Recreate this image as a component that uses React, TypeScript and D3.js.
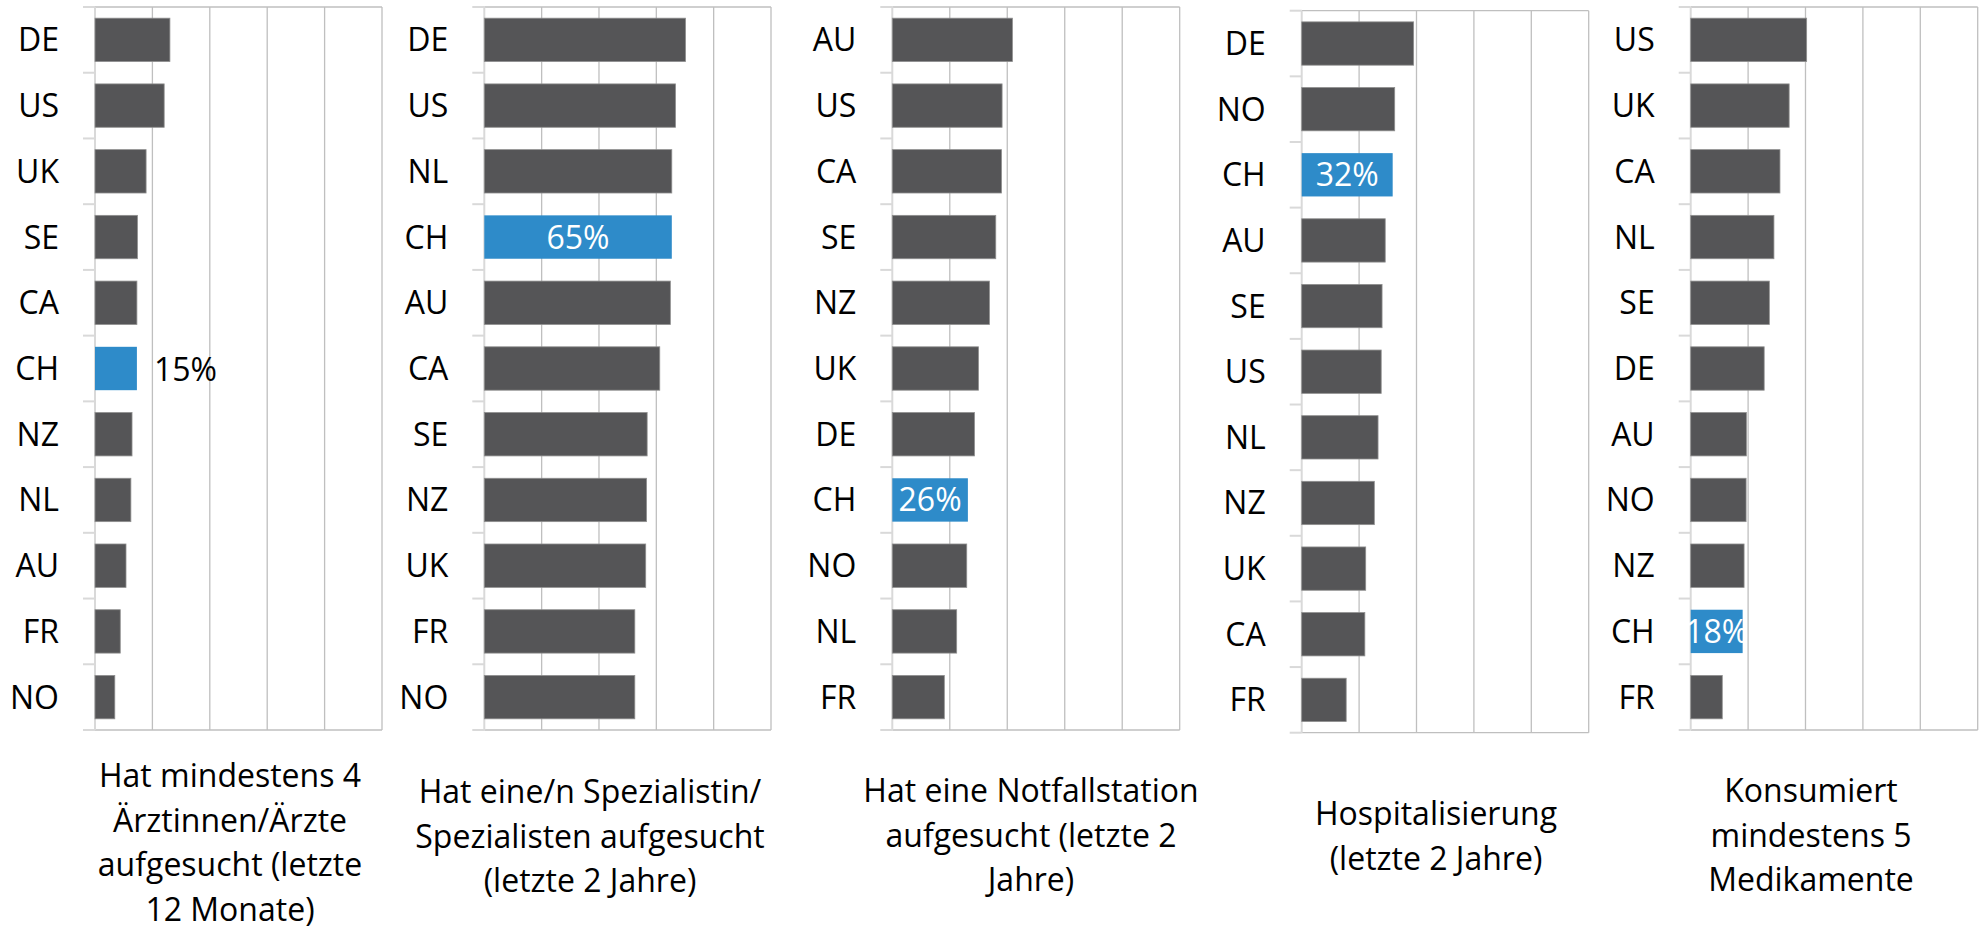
import React from "react";
import * as d3 from "d3";

// values in % per country
const p1Countries = ["DE", "US", "UK", "SE", "CA", "CH", "NZ", "NL", "AU", "FR", "NO"];
const p1Values = [26.1, 24.1, 17.8, 14.8, 14.6, 14.6, 12.9, 12.5, 10.8, 8.8, 6.9];

const p2Countries = ["DE", "US", "NL", "CH", "AU", "CA", "SE", "NZ", "UK", "FR", "NO"];
const p2Values = [70.2, 66.7, 65.4, 65.4, 64.9, 61.2, 56.8, 56.6, 56.3, 52.5, 52.5];

const p3Countries = ["AU", "US", "CA", "SE", "NZ", "UK", "DE", "CH", "NO", "NL", "FR"];
const p3Values = [41.8, 38.2, 38.0, 36.0, 33.8, 30.0, 28.6, 26.3, 25.9, 22.4, 18.1];

const p4Countries = ["DE", "NO", "CH", "AU", "SE", "US", "NL", "NZ", "UK", "CA", "FR"];
const p4Values = [39.0, 32.4, 31.7, 29.1, 28.0, 27.7, 26.6, 25.3, 22.3, 22.0, 15.5];

const p5Countries = ["US", "UK", "CA", "NL", "SE", "DE", "AU", "NO", "NZ", "CH", "FR"];
const p5Values = [40.4, 34.3, 31.1, 29.0, 27.4, 25.6, 19.4, 19.3, 18.6, 18.1, 11.0];

const p1Title = ["Hat mindestens 4", "Ärztinnen/Ärzte", "aufgesucht (letzte", "12 Monate)"];
const p2Title = ["Hat eine/n Spezialistin/", "Spezialisten aufgesucht", "(letzte 2 Jahre)"];
const p3Title = ["Hat eine Notfallstation", "aufgesucht (letzte 2", "Jahre)"];
const p4Title = ["Hospitalisierung", "(letzte 2 Jahre)"];
const p5Title = ["Konsumiert", "mindestens 5", "Medikamente"];

const gridTicks = [0, 20, 40, 60, 80, 100];
const highlight = "CH";

const W = 1981;
const H = 929;
const FONT = "'Open Sans', 'Noto Sans', sans-serif";
const FS = 32;
const DARK = "#555557";
const BLUE = "#2e8bc9";
const GRID = "#bfbfbf";
const AXIS = "#d9d9d9";

interface PanelProps {
  countries: string[];
  values: number[];
  title: string[];
  left: number;
  right: number;
  top: number;
  bottom: number;
  titleX: number;
  titleY: number;
  labelInside: boolean;
}

const Panel = ({ countries, values, title, left, right, top, bottom, titleX, titleY, labelInside }: PanelProps) => {
  const x = d3.scaleLinear().domain([0, 100]).range([left, right]);
  const y = d3.scaleBand<string>().domain(countries).range([top, bottom]).paddingInner(0.34).paddingOuter(0.17);
  const step = y.step();
  const bounds = d3.range(countries.length + 1).map((i) => top + i * step);

  return (
    <g>
      {gridTicks.slice(1).map((t) => (
        <line key={t} x1={x(t)} x2={x(t)} y1={top} y2={bottom} stroke={GRID} strokeWidth={1.3} />
      ))}
      <line x1={left} x2={right} y1={top} y2={top} stroke={GRID} strokeWidth={1.3} />
      <line x1={left} x2={right} y1={bottom} y2={bottom} stroke={GRID} strokeWidth={1.3} />
      <line x1={left} x2={left} y1={top} y2={bottom} stroke={AXIS} strokeWidth={2} />
      {bounds.map((b, i) => (
        <line key={i} x1={left - 12} x2={left} y1={b} y2={b} stroke={AXIS} strokeWidth={2} />
      ))}
      {countries.map((c, i) => {
        const yy = y(c) as number;
        const isCH = c === highlight;
        return (
          <g key={c}>
            <rect
              x={x(0)}
              y={yy}
              width={x(values[i]) - x(0)}
              height={y.bandwidth()}
              fill={isCH ? BLUE : DARK}
              stroke={isCH ? "none" : "#8f8f8f"}
              strokeWidth={0.8}
            />
            <text
              x={left - 36}
              y={yy + y.bandwidth() / 2}
              dy="0.36em"
              textAnchor="end"
              fontSize={FS}
              fill="#000"
            >
              {c}
            </text>
          </g>
        );
      })}
      {countries.map((c, i) => {
        if (c !== highlight) return null;
        const yy = (y(c) as number) + y.bandwidth() / 2;
        const label = `${Math.round(values[i])}%`;
        return labelInside ? (
          <text key="lbl" x={(x(0) + x(values[i])) / 2} y={yy} dy="0.36em" textAnchor="middle" fontSize={FS} fill="#fff">
            {label}
          </text>
        ) : (
          <text key="lbl" x={x(values[i]) + 17} y={yy} dy="0.4em" textAnchor="start" fontSize={FS} fill="#000">
            {label}
          </text>
        );
      })}
      {title.map((line, i) => (
        <text key={i} x={titleX} y={titleY + i * 44.5} textAnchor="middle" fontSize={FS} fill="#000">
          {line}
        </text>
      ))}
    </g>
  );
};

export default function App() {
  return (
    <svg
      width={W}
      height={H}
      style={{ position: "absolute", left: 0, top: 0, background: "#fff", fontFamily: FONT }}
    >
      <rect width={W} height={H} fill="#fff" />
      <Panel countries={p1Countries} values={p1Values} title={p1Title}
        left={95} right={382} top={7} bottom={730} titleX={230} titleY={787} labelInside={false} />
      <Panel countries={p2Countries} values={p2Values} title={p2Title}
        left={484.3} right={771} top={7} bottom={730} titleX={590} titleY={803} labelInside={true} />
      <Panel countries={p3Countries} values={p3Values} title={p3Title}
        left={892.3} right={1179.7} top={7} bottom={730} titleX={1031} titleY={802} labelInside={true} />
      <Panel countries={p4Countries} values={p4Values} title={p4Title}
        left={1301.7} right={1588.7} top={10.7} bottom={732.7} titleX={1436} titleY={825} labelInside={true} />
      <Panel countries={p5Countries} values={p5Values} title={p5Title}
        left={1690.7} right={1977.7} top={7} bottom={730} titleX={1811} titleY={802} labelInside={true} />
    </svg>
  );
}
